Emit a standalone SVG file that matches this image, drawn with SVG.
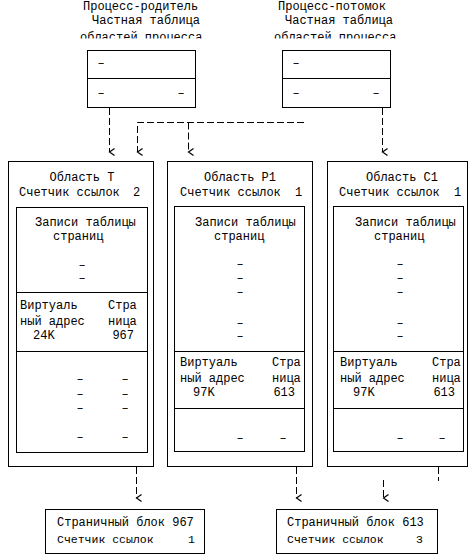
<svg xmlns="http://www.w3.org/2000/svg" width="475" height="558" viewBox="0 0 475 558">
<style>
text{font-family:"Liberation Mono","DejaVu Sans Mono",monospace;font-size:12px;fill:#000}
.sm{font-size:11.5px}
.m{text-anchor:middle}
.e{text-anchor:end}
.box{fill:#fff;stroke:#000;stroke-width:1}
.ln{stroke:#000;stroke-width:1;fill:none}
.cn{stroke:#000;stroke-width:1;fill:none;stroke-dasharray:7 3}
</style>
<defs>
<marker id="ar" markerWidth="10" markerHeight="10" refX="5" refY="7" orient="auto-start-reverse" markerUnits="userSpaceOnUse" viewBox="0 0 10 10">
<path d="M1.5,2 L5,7 L8.5,2" fill="none" stroke="#000" stroke-width="1.2"/>
</marker>
<clipPath id="clipTop"><rect x="0" y="0" width="475" height="38.5"/></clipPath>
</defs>
<rect width="475" height="558" fill="#fff"/>

<g id="parent">
<text x="83" y="10">Процесс-родитель</text>
<text x="92" y="24">Частная таблица</text>
<text x="80" y="41" clip-path="url(#clipTop)">областей процесса</text>
<rect class="box" x="87.5" y="50.5" width="108" height="57"/>
<line class="ln" x1="87.5" y1="78.5" x2="195.5" y2="78.5"/>
<text class="m" x="101" y="67">–</text>
<text class="m" x="101" y="97">–</text>
<text class="m" x="181" y="97">–</text>
</g>

<g id="child">
<text x="278" y="10">Процесс-потомок</text>
<text x="285" y="24">Частная таблица</text>
<text x="274" y="41" clip-path="url(#clipTop)">областей процесса</text>
<rect class="box" x="282.5" y="50.5" width="108" height="57"/>
<line class="ln" x1="282.5" y1="78.5" x2="390.5" y2="78.5"/>
<text class="m" x="296" y="67">–</text>
<text class="m" x="296" y="97">–</text>
<text class="m" x="376" y="97">–</text>
</g>

<g id="regionT">
<rect class="box" x="8.5" y="161.5" width="145" height="305"/>
<text class="m" x="82" y="181">Область T</text>
<text x="19" y="196">Счетчик ссылок</text>
<text x="133" y="196">2</text>
<rect class="box" x="16.5" y="207.5" width="131" height="245"/>
<text x="35" y="226">Записи таблицы</text>
<text x="53" y="240">страниц</text>
<text class="m" x="82" y="269">–</text>
<text class="m" x="82" y="282">–</text>
<line class="ln" x1="16.5" y1="292.5" x2="147.5" y2="292.5"/>
<text x="20" y="309">Виртуаль</text>
<text x="108" y="309">Стра</text>
<text x="20" y="325">ный адрес</text>
<text x="108" y="325">ница</text>
<text x="33" y="339">24K</text>
<text class="e" x="134" y="339">967</text>
<line class="ln" x1="16.5" y1="351.5" x2="147.5" y2="351.5"/>
<text class="m" x="80" y="383">–</text><text class="m" x="125" y="383">–</text>
<text class="m" x="80" y="398">–</text><text class="m" x="125" y="398">–</text>
<text class="m" x="80" y="412">–</text><text class="m" x="125" y="412">–</text>
<text class="m" x="80" y="441">–</text><text class="m" x="125" y="441">–</text>
</g>

<g id="regionP1">
<rect class="box" x="167.5" y="161.5" width="145" height="305"/>
<text class="m" x="240" y="181">Область P1</text>
<text x="180" y="196">Счетчик ссылок</text>
<text x="295" y="196">1</text>
<rect class="box" x="174.5" y="206.5" width="130" height="245"/>
<text x="195" y="226">Записи таблицы</text>
<text x="214" y="240">страниц</text>
<text class="m" x="240" y="268">–</text>
<text class="m" x="240" y="282">–</text>
<text class="m" x="240" y="296">–</text>
<text class="m" x="240" y="327">–</text>
<text class="m" x="240" y="340">–</text>
<line class="ln" x1="174.5" y1="351.5" x2="304.5" y2="351.5"/>
<text x="180" y="366">Виртуаль</text>
<text x="272" y="366">Стра</text>
<text x="180" y="382">ный адрес</text>
<text x="272" y="382">ница</text>
<text x="193" y="396">97K</text>
<text class="e" x="295" y="396">613</text>
<line class="ln" x1="174.5" y1="408.5" x2="304.5" y2="408.5"/>
<text class="m" x="240" y="442">–</text><text class="m" x="283" y="442">–</text>
</g>

<g id="regionC1">
<rect class="box" x="327.5" y="161.5" width="140" height="305"/>
<text class="m" x="402" y="181">Область C1</text>
<text x="339" y="196">Счетчик ссылок</text>
<text x="454" y="196">1</text>
<rect class="box" x="333.5" y="206.5" width="130" height="245"/>
<text x="355" y="226">Записи таблицы</text>
<text x="374" y="240">страниц</text>
<text class="m" x="400" y="268">–</text>
<text class="m" x="400" y="282">–</text>
<text class="m" x="400" y="296">–</text>
<text class="m" x="400" y="327">–</text>
<text class="m" x="400" y="340">–</text>
<line class="ln" x1="333.5" y1="351.5" x2="463.5" y2="351.5"/>
<text x="340" y="366">Виртуаль</text>
<text x="432" y="366">Стра</text>
<text x="340" y="382">ный адрес</text>
<text x="432" y="382">ница</text>
<text x="353" y="396">97K</text>
<text class="e" x="455" y="396">613</text>
<line class="ln" x1="333.5" y1="408.5" x2="463.5" y2="408.5"/>
<text class="m" x="400" y="442">–</text><text class="m" x="442" y="442">–</text>
</g>

<g id="block967">
<rect class="box" x="45.5" y="509.5" width="159" height="44"/>
<text x="57" y="526">Страничный блок 967</text>
<text class="sm" x="57" y="543">Счетчик ссылок</text>
<text class="sm" x="188" y="543">1</text>
</g>

<g id="block613">
<rect class="box" x="276.5" y="509.5" width="161" height="44"/>
<text x="287" y="526">Страничный блок 613</text>
<text class="sm" x="287" y="543">Счетчик ссылок</text>
<text class="sm" x="416" y="543">3</text>
</g>

<g id="connectors">
<path class="cn" d="M109.5,108 V152" marker-end="url(#ar)"/>
<path class="cn" d="M304,122.5 H137.5 V152" marker-end="url(#ar)"/>
<path class="cn" d="M188.5,122.5 V152" marker-end="url(#ar)"/>
<path class="cn" d="M382.5,108 V152" marker-end="url(#ar)"/>
<path class="cn" d="M136.5,467 V498" marker-end="url(#ar)"/>
<path class="cn" d="M296.5,467 V498" marker-end="url(#ar)"/>
<path class="cn" d="M383.5,480 V498" marker-end="url(#ar)"/>
<path class="cn" d="M438.5,467 V481"/>
</g>
</svg>
